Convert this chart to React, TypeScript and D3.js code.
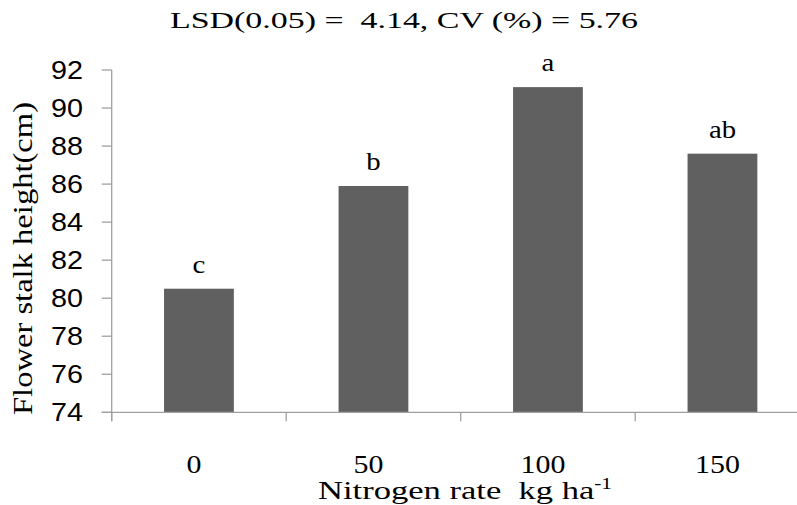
import React from "react";
import * as d3 from "d3";

const categories = ["0", "50", "100", "150"];
const heights = [80.5, 85.9, 91.1, 87.6];
const letters = ["c", "b", "a", "ab"];
const yTicks = [74, 76, 78, 80, 82, 84, 86, 88, 90, 92];
const titleText = "LSD(0.05) =  4.14, CV (%) = 5.76";

const W = 797;
const H = 505;
const SERIF = "Liberation Serif, Times New Roman, serif";
const SANS = "Liberation Sans, Arial, sans-serif";

export default function App() {
  const x = d3
    .scaleBand<string>()
    .domain(categories)
    .range([111.7, 809.7])
    .paddingInner(0.6)
    .paddingOuter(0.3);
  const y = d3.scaleLinear().domain([74, 92]).range([412.3, 70]);
  const step = x.step();
  const left = 111.7;
  const boundaries = d3.range(categories.length + 1).map((i) => left + i * step);
  const axisColor = "#a0a0a0";

  return (
    <svg
      width={W}
      height={H}
      style={{ position: "absolute", left: 0, top: 0, background: "#fff" }}
    >
      <rect x={0} y={0} width={W} height={H} fill="#fff" />
      <text
        x={170}
        y={28}
        fontFamily={SERIF}
        fontSize={24}
        fill="#000"
        textLength={468}
        lengthAdjust="spacingAndGlyphs"
        style={{ whiteSpace: "pre" }}
      >
        {titleText}
      </text>
      {heights.map((v, i) => (
        <g key={categories[i]}>
          <rect
            x={x(categories[i])!}
            y={y(v)}
            width={x.bandwidth()}
            height={y(74) - y(v)}
            fill="#606060"
          />
          <text
            transform={`translate(${x(categories[i])! + x.bandwidth() / 2}, ${y(v) - 16}) scale(1.15, 1)`}
            textAnchor="middle"
            fontFamily={SERIF}
            fontSize={25}
            fill="#000"
          >
            {letters[i]}
          </text>
        </g>
      ))}
      {/* y axis */}
      <line x1={left} x2={left} y1={y(92)} y2={y(74) + 9} stroke={axisColor} strokeWidth={1.3} />
      {yTicks.map((t) => (
        <g key={t}>
          <line x1={left - 10} x2={left} y1={y(t)} y2={y(t)} stroke={axisColor} strokeWidth={1.3} />
          <text
            transform={`translate(83, ${y(t)}) scale(1.15, 1)`}
            dy="0.36em"
            textAnchor="end"
            fontFamily={SANS}
            fontSize={25}
            fill="#000"
          >
            {t}
          </text>
        </g>
      ))}
      {/* x axis */}
      <line x1={left - 10} x2={boundaries[boundaries.length - 1]} y1={y(74)} y2={y(74)} stroke={axisColor} strokeWidth={1.3} />
      {boundaries.map((b, i) => (
        <line key={i} x1={b} x2={b} y1={y(74)} y2={y(74) + 9} stroke={axisColor} strokeWidth={1.3} />
      ))}
      {categories.map((c) => (
        <text
          key={c}
          transform={`translate(${x(c)! + x.bandwidth() / 2 - 5}, 473) scale(1.15, 1)`}
          textAnchor="middle"
          fontFamily={SERIF}
          fontSize={26}
          fill="#000"
        >
          {c}
        </text>
      ))}
      <text
        x={318}
        y={499}
        fontFamily={SERIF}
        fontSize={26}
        fill="#000"
        textLength={294}
        lengthAdjust="spacingAndGlyphs"
        style={{ whiteSpace: "pre" }}
      >
        Nitrogen rate  kg ha<tspan dy={-10} fontSize={16}>-1</tspan>
      </text>
      <text
        transform={`translate(32, 415) rotate(-90)`}
        fontFamily={SERIF}
        fontSize={27}
        fill="#000"
        textLength={313}
        lengthAdjust="spacingAndGlyphs"
      >
        Flower stalk height(cm)
      </text>
    </svg>
  );
}
